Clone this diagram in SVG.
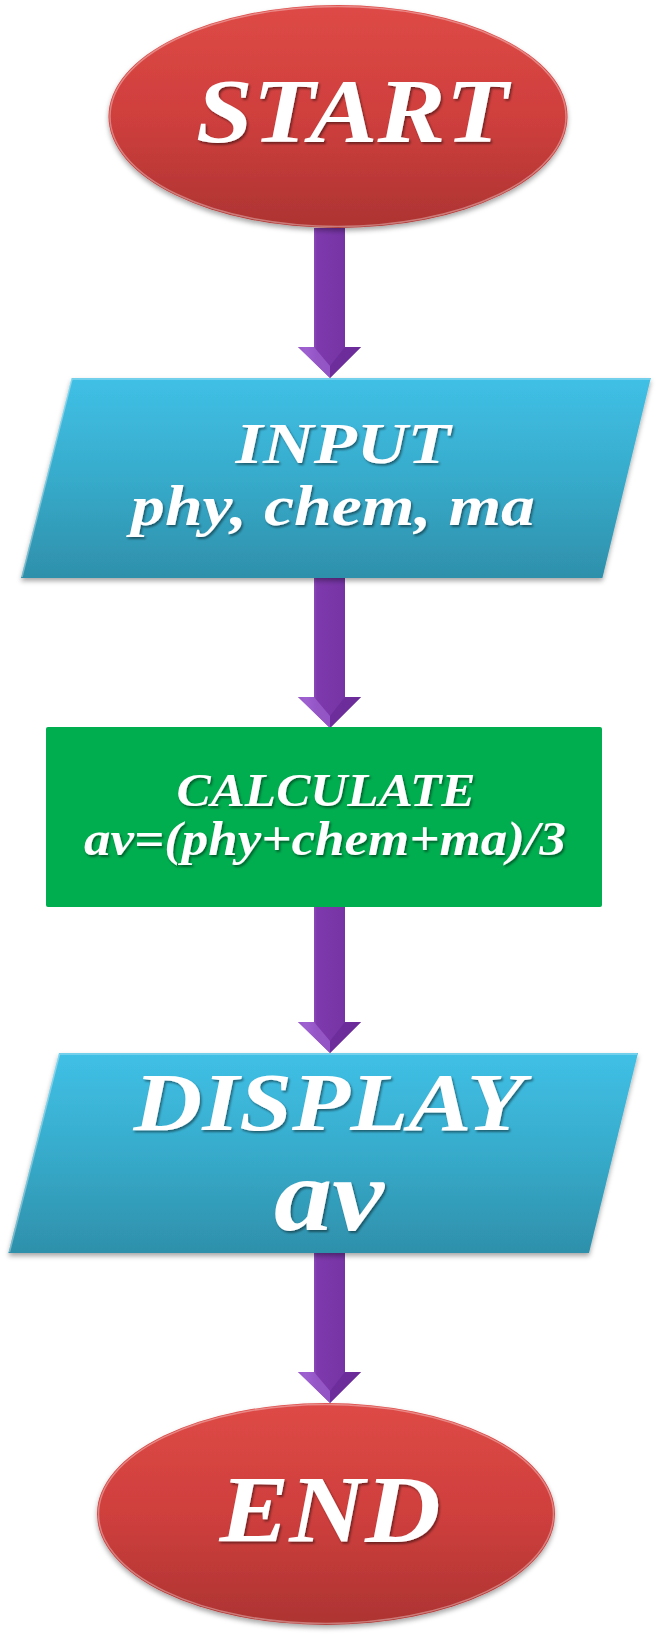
<svg xmlns="http://www.w3.org/2000/svg" width="657" height="1639" viewBox="0 0 657 1639">
<defs>
  <linearGradient id="red" x1="0" y1="0" x2="0" y2="1">
    <stop offset="0" stop-color="#de4a46"/>
    <stop offset="0.5" stop-color="#cf3f3d"/>
    <stop offset="1" stop-color="#ad3432"/>
  </linearGradient>
  <linearGradient id="blue" x1="0" y1="0" x2="0" y2="1">
    <stop offset="0" stop-color="#40c0e6"/>
    <stop offset="0.5" stop-color="#37abcb"/>
    <stop offset="1" stop-color="#2e90ab"/>
  </linearGradient>
  <linearGradient id="purple" x1="0" y1="0" x2="1" y2="0">
    <stop offset="0" stop-color="#8842b8"/>
    <stop offset="0.12" stop-color="#b078e0"/>
    <stop offset="0.3" stop-color="#7e3aac"/>
    <stop offset="1" stop-color="#7030a0"/>
  </linearGradient>
  <filter id="shadow" x="-10%" y="-10%" width="120%" height="125%">
    <feDropShadow dx="0" dy="3" stdDeviation="2.5" flood-color="#000" flood-opacity="0.35"/>
  </filter>
  <filter id="tshadow" x="-10%" y="-20%" width="120%" height="140%">
    <feDropShadow dx="1.5" dy="2" stdDeviation="1.2" flood-color="#000" flood-opacity="0.45"/>
  </filter>
  <g id="arrow">
    <polygon points="314,0 345,0 345,119 361,119 330,150 298,119 314,119" fill="url(#purple)"/>
    <polygon points="298,119 314,119 330,138 330,150" fill="#9a5ccc" opacity="0.8"/>
    <polygon points="345,119 361,119 330,150 330,138" fill="#6a2c98" opacity="0.8"/>
  </g>
  <style>
    .lbl { font-family: "Liberation Serif", "DejaVu Serif", serif; font-style: italic; font-weight: bold; fill: #ffffff; text-anchor: middle; filter: url(#tshadow); }
    .edge { fill: none; stroke: #ffffff; stroke-opacity: 0.35; stroke-width: 1.5; }
  </style>
</defs>

<g id="connectors">
  <use href="#arrow" transform="translate(0,228)"/>
  <use href="#arrow" transform="translate(0,578)"/>
  <use href="#arrow" transform="translate(0,903)"/>
  <use href="#arrow" transform="translate(0,1253)"/>
</g>

<g id="start">
  <ellipse cx="338" cy="116.5" rx="229.5" ry="111.5" fill="url(#red)" filter="url(#shadow)"/>
  <ellipse cx="338" cy="116.5" rx="228" ry="110" class="edge"/>
  <text class="lbl" x="352" y="142" font-size="90" textLength="312" lengthAdjust="spacingAndGlyphs">START</text>
</g>

<g id="input">
  <polygon points="71.6,378 650.8,378 602.4,578 21,578" fill="url(#blue)" filter="url(#shadow)"/>
  <polyline points="22,577 72,379 650,379" class="edge" stroke-opacity="0.5"/>
  <text class="lbl" x="343" y="463" font-size="56" textLength="215" lengthAdjust="spacingAndGlyphs">INPUT</text>
  <text class="lbl" x="333" y="525" font-size="58" textLength="404" lengthAdjust="spacingAndGlyphs">phy, chem, ma</text>
</g>

<g id="calculate">
  <rect x="46" y="727" width="556" height="180" rx="2" fill="#00ad4f"/>
  <text class="lbl" x="326" y="806" font-size="46" textLength="299" lengthAdjust="spacingAndGlyphs">CALCULATE</text>
  <text class="lbl" x="325" y="855" font-size="48" textLength="482" lengthAdjust="spacingAndGlyphs">av=(phy+chem+ma)/3</text>
</g>

<g id="display">
  <polygon points="59,1053 638,1053 589,1253 8.4,1253" fill="url(#blue)" filter="url(#shadow)"/>
  <polyline points="9.5,1252 59.5,1054 637,1054" class="edge" stroke-opacity="0.5"/>
  <text class="lbl" x="329" y="1130" font-size="82" textLength="391" lengthAdjust="spacingAndGlyphs">DISPLAY</text>
  <text class="lbl" x="329" y="1230" font-size="104" textLength="110" lengthAdjust="spacingAndGlyphs">av</text>
</g>

<g id="end">
  <ellipse cx="326" cy="1514" rx="229" ry="111" fill="url(#red)" filter="url(#shadow)"/>
  <ellipse cx="326" cy="1514" rx="227.5" ry="109.5" class="edge"/>
  <text class="lbl" x="330" y="1542" font-size="96" textLength="221" lengthAdjust="spacingAndGlyphs">END</text>
</g>
</svg>
